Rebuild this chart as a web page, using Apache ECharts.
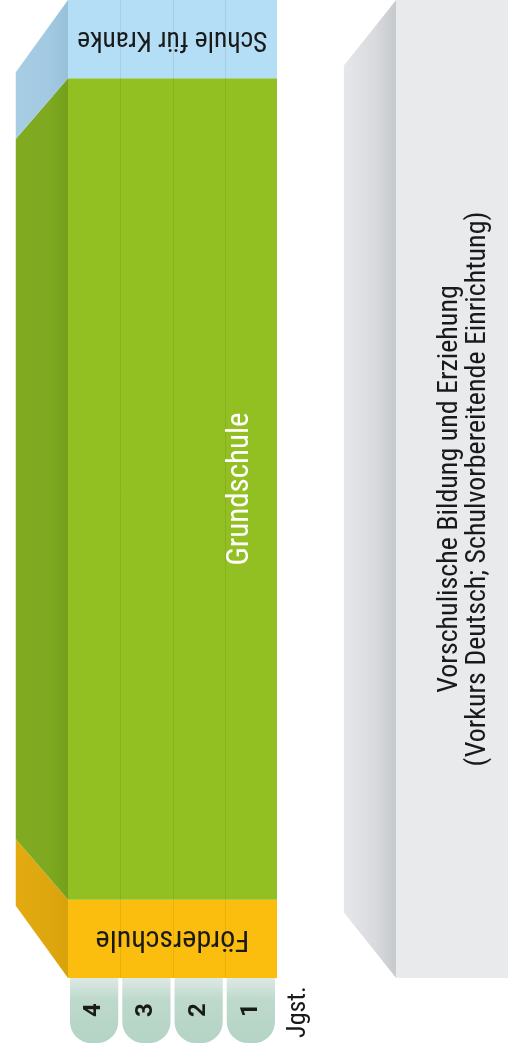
<!DOCTYPE html>
<html>
<head>
<meta charset="utf-8">
<script src="https://cdn.jsdelivr.net/npm/echarts@6/dist/echarts.min.js"></script>
<style>
html,body{margin:0;padding:0;background:#ffffff;}
#chart{width:508px;height:1052px;}
</style>
</head>
<body>
<div id="chart"></div>
<script>
// ---------- data ----------
const grades = ['1', '2', '3', '4'];
const schoolTypes = ['Förderschule', 'Grundschule', 'Schule für Kranke'];
const schoolShares = [8, 84, 8];
const preschoolLines = ['Vorschulische Bildung und Erziehung', '(Vorkurs Deutsch; Schulvorbereitende Einrichtung)'];
const preschoolSpan = [-4.6, -2.28];
const gradeAxisName = 'Jgst.';

// ---------- styles ----------
const FONT = '"Liberation Sans Narrow", "Roboto Condensed", "DejaVu Sans Condensed", Roboto, sans-serif';
const blockStyle = {
  'Förderschule': { front: '#fbbe0f', side: ['#e3ab10', '#dfa70f', '#d8a20c'], text: '#1a1a1a', size: 30, rot: Math.PI, lx: 2 },
  'Grundschule': { front: '#92bf22', side: ['#80ab21', '#7ea920', '#75a01c'], text: '#ffffff', size: 31, rot: Math.PI / 2, lx: 0.7 },
  'Schule für Kranke': { front: '#b3def5', side: ['#a7cde4', '#a3cae2', '#97c0d9'], text: '#1a1a1a', size: 27.5, rot: Math.PI, lx: 2 }
};

const starts = [];
schoolShares.reduce((acc, v, i) => { starts[i] = acc; return acc + v; }, 0);
const schoolData = schoolTypes.map((name, i) => ({ name, value: [starts[i], starts[i] + schoolShares[i], i] }));
const yMax = schoolShares.reduce((a, b) => a + b, 0);

function sidePolygon(xl, yTop, yBot, depth, yc, k, colors) {
  return {
    type: 'polygon',
    shape: { points: [[xl, yTop], [xl, yBot], [xl - depth, yc + (yBot - yc) * k], [xl - depth, yc + (yTop - yc) * k]] },
    style: {
      fill: new echarts.graphic.LinearGradient(0, 0, 1, 0, [
        { offset: 0, color: colors[0] }, { offset: 0.6, color: colors[1] }, { offset: 1, color: colors[2] }
      ])
    }
  };
}

function renderSchool(params, api) {
  const y0 = api.value(0), y1 = api.value(1), idx = api.value(2);
  const name = schoolTypes[idx];
  const st = blockStyle[name];
  const tl = api.coord([grades.length, y1]);
  const br = api.coord([0, y0]);
  const depth = api.size([1, 0])[0];
  const yc = api.coord([0, yMax / 2])[1];
  const children = [];
  children.push(sidePolygon(tl[0], tl[1], br[1], depth, yc, 0.852, st.side));
  children.push({ type: 'rect', shape: { x: tl[0], y: tl[1], width: br[0] - tl[0], height: br[1] - tl[1] }, style: { fill: st.front } });
  for (let g = 1; g < grades.length; g++) {
    const x = Math.round(api.coord([g, 0])[0]) + 0.5;
    children.push({ type: 'line', shape: { x1: x, y1: tl[1], x2: x, y2: br[1] }, style: { stroke: 'rgba(0,0,0,0.07)', lineWidth: 1 } });
  }
  const lp = api.coord([st.lx, (y0 + y1) / 2]);
  children.push({
    type: 'text', x: lp[0], y: lp[1], rotation: st.rot,
    style: { text: name, fill: st.text, fontSize: st.size, fontFamily: FONT, align: 'center', verticalAlign: 'middle' }
  });
  return { type: 'group', children };
}

function renderPreschool(params, api) {
  const xr = api.value(0), xl = api.value(1);
  const tl = api.coord([xl, yMax]);
  const br = api.coord([xr, 0]);
  const depth = api.size([1, 0])[0];
  const yc = api.coord([0, yMax / 2])[1];
  const tp = api.coord([-3.58, yMax / 2]);
  return {
    type: 'group',
    children: [
      sidePolygon(tl[0], tl[1], br[1], depth, yc, 0.866, ['#e6e7ea', '#d8dadd', '#c6c9cd']),
      { type: 'rect', shape: { x: tl[0], y: tl[1], width: br[0] - tl[0], height: br[1] - tl[1] }, style: { fill: '#e9eaec' } },
      {
        type: 'text', x: tp[0], y: tp[1], rotation: Math.PI / 2,
        style: { text: preschoolLines.join('\n'), fill: '#1a1a1a', fontSize: 28, lineHeight: 28, fontFamily: FONT, align: 'center', verticalAlign: 'middle' }
      }
    ]
  };
}

function renderTab(params, api) {
  const i = api.value(0);
  const left = api.coord([i + 1, 0]);
  const right = api.coord([i, 0]);
  const x = left[0] + 2, w = right[0] - left[0] - 4;
  const y = left[1], h = 65;
  const children = [
    {
      type: 'rect', shape: { x, y, width: w, height: h, r: [0, 0, 21, 21] },
      style: {
        fill: new echarts.graphic.LinearGradient(0, 0, 0, 1, [
          { offset: 0, color: '#dde9e3' }, { offset: 0.35, color: '#bdd9cb' }, { offset: 1, color: '#b4d4c5' }
        ])
      }
    },
    {
      type: 'text', x: x + w / 2, y: y + 32, rotation: Math.PI / 2,
      style: { text: grades[i], fill: '#1a1a1a', fontSize: 24, fontWeight: 'bold', fontFamily: 'Roboto, sans-serif', align: 'center', verticalAlign: 'middle' }
    }
  ];
  if (i === 0) {
    children.push({
      type: 'text', x: right[0] + 21, y: y + 34, rotation: Math.PI / 2,
      style: { text: gradeAxisName, fill: '#1a1a1a', fontSize: 26, fontFamily: FONT, align: 'center', verticalAlign: 'middle' }
    });
  }
  return { type: 'group', children };
}

const chart = echarts.init(document.getElementById('chart'), null, { renderer: 'canvas' });
chart.setOption({
  animation: false,
  backgroundColor: '#ffffff',
  grid: { left: 68, right: 231, top: 0, bottom: 74 },
  xAxis: { type: 'value', min: 0, max: grades.length, inverse: true, show: false },
  yAxis: { type: 'value', min: 0, max: yMax, show: false },
  series: [
    { type: 'custom', clip: false, renderItem: renderPreschool, data: [preschoolSpan] },
    { type: 'custom', clip: false, renderItem: renderSchool, data: schoolData },
    { type: 'custom', clip: false, renderItem: renderTab, data: grades.map((g, i) => [i]) }
  ]
});
</script>
</body>
</html>
